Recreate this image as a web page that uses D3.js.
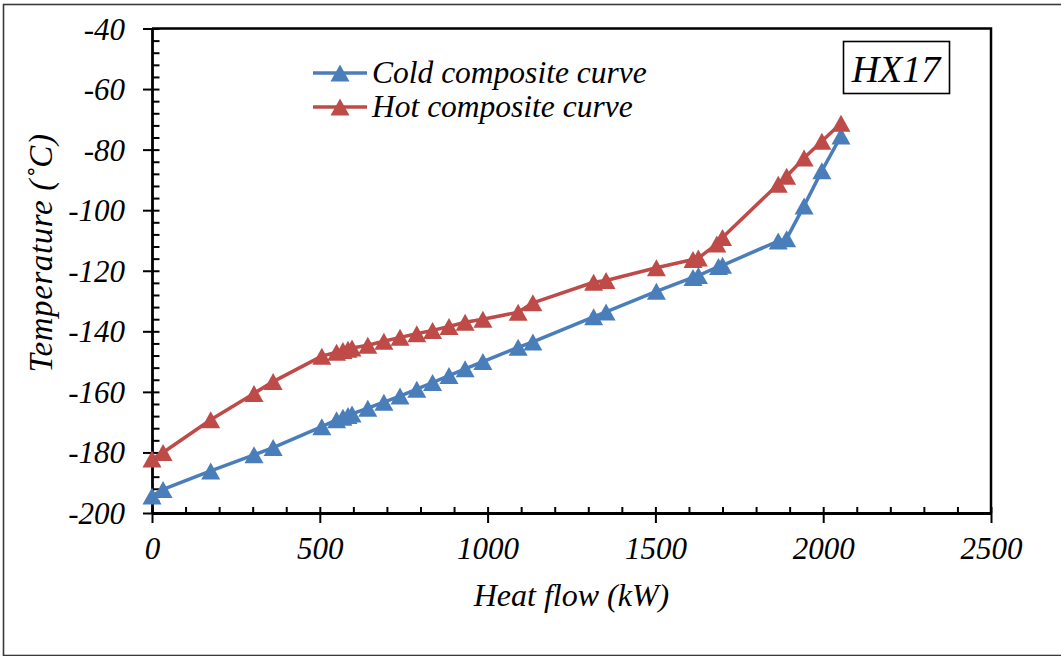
<!DOCTYPE html>
<html>
<head>
<meta charset="utf-8">
<script src="https://cdn.jsdelivr.net/npm/d3@7"></script>
<style>
  html, body { margin: 0; padding: 0; background: #fff; }
  svg { display: block; }
  svg text { font-family: "Times New Roman", "Liberation Serif", "DejaVu Serif", serif; font-style: italic; fill: #000; }
</style>
</head>
<body>
<svg id="chart" width="1061" height="656"></svg>
<script>
// Composite curves for heat exchanger HX17
const coldHeat = [0, 33, 175, 304, 361, 506, 550, 569, 584, 596, 643, 691, 739, 789, 836, 885, 933, 986, 1091, 1135, 1316, 1353, 1503, 1612, 1628, 1688, 1700, 1866, 1891, 1943, 1996, 2053];
const coldTemp = [-194.4, -192.2, -186.1, -180.8, -178.4, -171.5, -169.2, -168.4, -167.8, -167.3, -165.4, -163.4, -161.4, -159.1, -156.9, -154.6, -152.4, -150, -145.3, -143.5, -135.2, -133.6, -126.8, -122.2, -121.6, -118.6, -118.2, -110.2, -109.4, -98.6, -87, -75.5];

const hotHeat = [0, 33, 175, 304, 361, 506, 550, 569, 584, 596, 643, 691, 739, 789, 836, 885, 933, 986, 1091, 1135, 1316, 1353, 1503, 1612, 1628, 1683, 1700, 1866, 1891, 1943, 1996, 2053];
const hotTemp = [-182.2, -180, -169.2, -160.5, -156.6, -148.2, -146.9, -146.3, -145.9, -145.5, -144.6, -143.3, -142, -140.8, -139.7, -138.4, -137, -136, -133.7, -130.6, -123.8, -123.2, -119, -116.3, -115.8, -111.2, -109, -91.4, -88.8, -82.8, -77.2, -71.3];

const seriesNames = ["Cold composite curve", "Hot composite curve"];
const seriesColors = ["#4A7EBB", "#BE4B48"];
const xTicks = [0, 500, 1000, 1500, 2000, 2500];
const yTicks = [-200, -180, -160, -140, -120, -100, -80, -60, -40];
const xLabel = "Heat flow (kW)";
const yLabel = "Temperature (\u02DAC)";
const tagLabel = "HX17";

const FONT = "'Times New Roman', 'Liberation Serif', 'DejaVu Serif', serif";
const fmt = v => String(v);   // plain hyphen-minus, as in the printed figure

const svg = d3.select("#chart");
const W = 1061, H = 656;
const plot = { left: 152, right: 991, top: 28.5, bottom: 513 };

// outer frame (right edge runs off the canvas)
svg.append("rect")
  .attr("x", 3.5).attr("y", 4.5)
  .attr("width", W + 20).attr("height", 651)
  .attr("fill", "none").attr("stroke", "#3a3a3a").attr("stroke-width", 1.6);

const x = d3.scaleLinear().domain([0, 2500]).range([plot.left, plot.right]);
const y = d3.scaleLinear().domain([-200, -40]).range([plot.bottom, plot.top]);

const g = svg.append("g");

// plot border: top and right
g.append("path")
  .attr("d", `M${plot.left},${plot.top}H${plot.right}V${plot.bottom}`)
  .attr("fill", "none").attr("stroke", "#000").attr("stroke-width", 2.5);

// minor ticks (inside)
const xMinor = d3.range(0, 2501, 100).filter(v => v % 500 !== 0);
const yMinor = d3.range(-200, -39, 4).filter(v => v % 20 !== 0);

g.append("g")
  .attr("transform", `translate(0,${plot.bottom})`)
  .call(d3.axisTop(x).tickValues(xMinor).tickSize(6).tickFormat(""))
  .call(s => s.select(".domain").remove())
  .call(s => s.selectAll("line").attr("stroke", "#000").attr("stroke-width", 2));

g.append("g")
  .attr("transform", `translate(${plot.left},0)`)
  .call(d3.axisRight(y).tickValues(yMinor).tickSize(7.5).tickFormat(""))
  .call(s => s.select(".domain").remove())
  .call(s => s.selectAll("line").attr("stroke", "#000").attr("stroke-width", 2));

// x axis: major ticks cross the axis line
const xAxis = g.append("g")
  .attr("transform", `translate(0,${plot.bottom})`)
  .call(d3.axisBottom(x).tickValues(xTicks).tickSizeInner(10).tickSizeOuter(0).tickPadding(14).tickFormat(fmt));
xAxis.attr("font-family", FONT);
xAxis.select(".domain").attr("stroke", "#000").attr("stroke-width", 2.8);
xAxis.selectAll(".tick line").attr("y1", -6).attr("stroke", "#000").attr("stroke-width", 2);
xAxis.selectAll(".tick text")
  .attr("font-style", "italic").attr("font-size", 31).attr("fill", "#000")
  .attr("dy", "0.71em");

// y axis
const yAxis = g.append("g")
  .attr("transform", `translate(${plot.left},0)`)
  .call(d3.axisLeft(y).tickValues(yTicks).tickSizeInner(9).tickSizeOuter(0).tickPadding(18).tickFormat(fmt));
yAxis.attr("font-family", FONT);
yAxis.select(".domain").attr("stroke", "#000").attr("stroke-width", 2.8);
yAxis.selectAll(".tick line").attr("x1", 7.5).attr("stroke", "#000").attr("stroke-width", 2);
yAxis.selectAll(".tick text")
  .attr("font-style", "italic").attr("font-size", 31).attr("fill", "#000")
  .attr("dy", "0.34em");

// axis titles
svg.append("text")
  .attr("x", (plot.left + plot.right) / 2).attr("y", 606)
  .attr("text-anchor", "middle").attr("font-size", 32)
  .text(xLabel);

svg.append("text")
  .attr("transform", `translate(52,253) rotate(-90)`)
  .attr("text-anchor", "middle").attr("font-size", 33)
  .attr("letter-spacing", 0.6)
  .text(yLabel);

// triangle marker centred in its bounding box
const triPath = "M0,-8.5L9.5,8.5L-9.5,8.5Z";

const series = [
  { name: seriesNames[0], color: seriesColors[0], pts: coldHeat.map((q, i) => [q, coldTemp[i]]) },
  { name: seriesNames[1], color: seriesColors[1], pts: hotHeat.map((q, i) => [q, hotTemp[i]]) }
];

const line = d3.line().x(d => x(d[0])).y(d => y(d[1]));

series.forEach(s => {
  const sg = g.append("g");
  sg.append("path")
    .attr("d", line(s.pts))
    .attr("fill", "none").attr("stroke", s.color)
    .attr("stroke-width", 3.5).attr("stroke-linejoin", "round");
  sg.selectAll("path.mk").data(s.pts).join("path")
    .attr("class", "mk")
    .attr("d", triPath)
    .attr("transform", d => `translate(${x(d[0])},${y(d[1])})`)
    .attr("fill", s.color);
});

// legend
const legend = svg.append("g");
series.forEach((s, i) => {
  const ly = 73 + i * 34;
  legend.append("line")
    .attr("x1", 313).attr("x2", 367).attr("y1", ly).attr("y2", ly)
    .attr("stroke", s.color).attr("stroke-width", 3.5);
  legend.append("path")
    .attr("d", triPath)
    .attr("transform", `translate(340,${ly})`)
    .attr("fill", s.color);
  legend.append("text")
    .attr("x", 372).attr("y", ly + 10)
    .attr("font-size", 31.5)
    .text(s.name);
});

// tag box
svg.append("rect")
  .attr("x", 843.5).attr("y", 41.5).attr("width", 106).attr("height", 52)
  .attr("fill", "#fff").attr("stroke", "#000").attr("stroke-width", 1.6);
svg.append("text")
  .attr("x", 896).attr("y", 82)
  .attr("text-anchor", "middle").attr("font-size", 38)
  .text(tagLabel);
</script>
</body>
</html>
